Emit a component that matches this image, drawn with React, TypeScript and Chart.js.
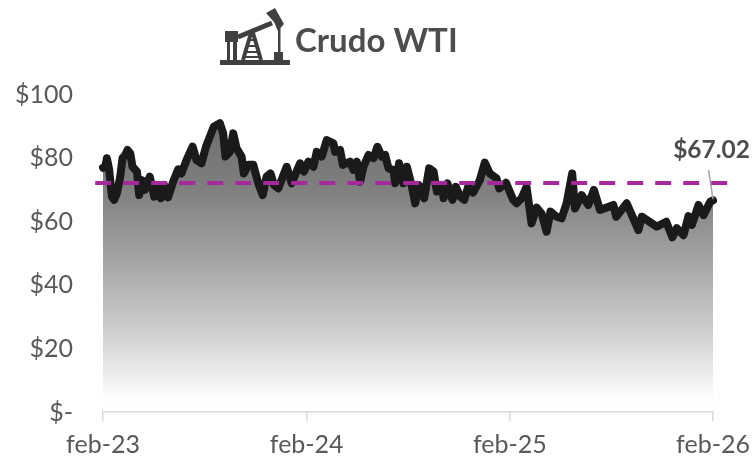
import React, { useEffect, useRef } from "react";
import { Chart, registerables } from "chart.js";

Chart.register(...registerables);

const FONT = "Lato, 'Open Sans', sans-serif";
const TITLE = "Crudo WTI";
const LAST_LABEL = "$67.02";
const AVERAGE = 71.7;

const tickDays = [0, 366, 731, 1096];
const tickLabels = ["feb-23", "feb-24", "feb-25", "feb-26"];
const yTicks = [0, 20, 40, 60, 80, 100];

const days = [
  0, 4, 7, 11, 16, 20, 25, 31, 35, 40, 44, 49, 53, 61, 65, 70, 75, 84, 92, 96, 104, 110, 117, 126, 135, 141, 150, 161,
  168, 177, 185, 192, 199, 210, 216, 220, 228, 234, 240, 249, 253, 261, 270, 279, 287, 294, 301, 307, 315, 330, 339,
  354, 361, 369, 378, 384, 393, 402, 414, 417, 426, 431, 444, 450, 456, 462, 468, 477, 486, 493, 501, 507, 513, 522,
  525, 532, 540, 546, 555, 561, 567, 577, 586, 594, 600, 609, 612, 619, 628, 634, 642, 649, 656, 665, 677, 686, 695,
  707, 712, 724, 737, 743, 752, 761, 770, 779, 788, 797, 804, 815, 824, 833, 843, 848, 860, 872, 882, 893, 917, 922,
  941, 962, 968, 995, 1012, 1023, 1031, 1043, 1052, 1058, 1070, 1079, 1091, 1096,
];
const prices = [
  76.5, 76.8, 79.5, 76.0, 67.4, 66.4, 68.5, 73.7, 79.5, 80.5, 82.1, 81.0, 76.8, 75.3, 67.9, 72.6, 69.5, 73.7, 67.4,
  71.1, 66.9, 71.1, 67.2, 72.1, 76.0, 74.7, 78.9, 83.1, 78.9, 77.9, 83.1, 86.3, 89.4, 90.5, 87.3, 80.0, 81.5, 87.3,
  82.6, 80.0, 74.7, 77.4, 77.4, 71.6, 67.9, 73.7, 74.7, 71.1, 70.0, 76.8, 71.6, 77.9, 75.3, 78.4, 76.8, 81.5, 80.0,
  85.2, 84.2, 81.5, 82.1, 77.4, 78.4, 75.8, 78.4, 72.1, 76.8, 80.5, 79.5, 83.1, 80.0, 80.5, 76.3, 75.8, 71.6, 77.9,
  71.6, 76.8, 70.5, 65.3, 71.1, 66.9, 76.3, 75.3, 69.0, 71.1, 66.9, 71.6, 66.4, 70.5, 67.4, 66.4, 70.5, 68.7, 72.6,
  78.1, 74.7, 73.2, 70.0, 71.8, 66.4, 65.3, 66.9, 70.5, 59.0, 64.0, 62.1, 56.4, 62.7, 61.1, 60.6, 65.3, 74.7, 63.7,
  67.9, 64.8, 69.5, 63.2, 64.8, 61.1, 65.3, 56.9, 61.1, 58.0, 59.5, 54.6, 57.5, 55.3, 61.3, 58.5, 64.8, 61.6, 65.8,
  66.2,
];
const averageDays = [-14, 1125];
const leaderDays = [1088, 1096];
const leaderValues = [75.8, 66.6];

function fillGradient(chart: any) {
  const { ctx, chartArea } = chart;
  if (!chartArea) return "#888";
  const g = ctx.createLinearGradient(0, chartArea.top, 0, chartArea.bottom);
  g.addColorStop(0, "#666666");
  g.addColorStop(0.3, "#7f7f7f");
  g.addColorStop(0.5, "#9f9f9f");
  g.addColorStop(0.75, "#cfcfcf");
  g.addColorStop(0.97, "#ffffff");
  g.addColorStop(1, "#ffffff");
  return g;
}

const annotations = {
  id: "annotations",
  afterDatasetsDraw(chart: any) {
    const { ctx, scales } = chart;
    ctx.save();
    // last value label
    ctx.font = `bold 24.5px ${FONT}`;
    ctx.fillStyle = "#4d4d4d";
    ctx.textAlign = "right";
    ctx.textBaseline = "middle";
    ctx.fillText(LAST_LABEL, scales.x.getPixelForValue(1096) + 37, 150);
    // title
    ctx.font = `bold 33px ${FONT}`;
    ctx.textAlign = "left";
    ctx.fillText(TITLE, 295, 41);
    // pumpjack icon
    ctx.fillStyle = "#404040";
    ctx.strokeStyle = "#404040";
    ctx.fillRect(220, 60, 70, 5);
    ctx.fillRect(225, 31, 13, 11);
    ctx.fillRect(227, 42, 3, 18);
    ctx.fillRect(233, 42, 4, 18);
    ctx.fillRect(278, 28, 2.5, 25);
    ctx.fillRect(274, 52, 9, 8);
    ctx.lineWidth = 5;
    ctx.beginPath();
    ctx.moveTo(238, 37);
    ctx.lineTo(272, 23);
    ctx.stroke();
    ctx.beginPath();
    ctx.moveTo(266, 13);
    ctx.lineTo(275, 8);
    ctx.lineTo(284, 24);
    ctx.lineTo(278, 31);
    ctx.lineTo(274, 22);
    ctx.closePath();
    ctx.fill();
    ctx.lineWidth = 4;
    ctx.beginPath();
    ctx.moveTo(251, 33);
    ctx.lineTo(243, 60);
    ctx.moveTo(253, 33);
    ctx.lineTo(261, 60);
    ctx.stroke();
    ctx.lineWidth = 2;
    ctx.beginPath();
    for (const [y, l, r] of [
      [40, 248, 256],
      [46, 246, 258],
      [52, 245, 259],
      [57, 244, 260],
    ]) {
      ctx.moveTo(l, y);
      ctx.lineTo(r, y);
    }
    ctx.stroke();
    ctx.restore();
  },
};

export default function App() {
  const ref = useRef<HTMLCanvasElement>(null);
  useEffect(() => {
    const chart = new Chart(ref.current!, {
      type: "line",
      data: {
        datasets: [
          {
            label: "Promedio",
            data: averageDays.map((x) => ({ x, y: AVERAGE })),
            borderColor: "#a5299a",
            borderWidth: 4,
            borderDash: [16, 12],
            pointRadius: 0,
            fill: false,
            clip: false,
            order: 1,
          },
          {
            label: "Etiqueta",
            data: leaderDays.map((x, i) => ({ x, y: leaderValues[i] })),
            borderColor: "#a6a6a6",
            borderWidth: 1.5,
            pointRadius: 0,
            fill: false,
            clip: false,
            order: 2,
          },
          {
            label: "Crudo WTI",
            data: days.map((x, i) => ({ x, y: prices[i] })),
            borderColor: "#1a1a1a",
            borderWidth: 8,
            borderJoinStyle: "round",
            borderCapStyle: "round",
            backgroundColor: (c: any) => fillGradient(c.chart),
            pointRadius: 0,
            tension: 0,
            fill: "origin",
            clip: false,
            order: 3,
          },
        ],
      },
      options: {
        responsive: false,
        animation: false,
        layout: { padding: { top: 93, right: 43, left: 0, bottom: 0 } },
        plugins: { legend: { display: false }, title: { display: false }, tooltip: { enabled: false } },
        scales: {
          x: {
            type: "linear",
            min: 0,
            max: 1096,
            afterBuildTicks: (s: any) => {
              s.ticks = tickDays.map((value) => ({ value }));
            },
            afterFit: (s: any) => {
              s.height = 47;
              s.paddingLeft = 0;
              s.paddingRight = 0;
            },
            border: { color: "#d9d9d9", width: 2.5 },
            grid: { drawOnChartArea: false, drawTicks: true, tickLength: 10, color: "#d9d9d9", lineWidth: 1.5 },
            ticks: {
              autoSkip: false,
              maxRotation: 0,
              padding: 9,
              color: "#595959",
              font: { family: FONT, size: 25 },
              callback: (v: any) => tickLabels[tickDays.indexOf(v)] ?? "",
            },
          },
          y: {
            min: 0,
            max: 100,
            afterBuildTicks: (s: any) => {
              s.ticks = yTicks.map((value) => ({ value }));
            },
            afterFit: (s: any) => {
              s.width = 103;
            },
            border: { display: false },
            grid: { display: false, drawTicks: false },
            ticks: {
              padding: 30,
              labelOffset: 1.5,
              color: "#595959",
              font: { family: FONT, size: 25 },
              callback: (v: any) => (v === 0 ? "$-" : "$" + v),
            },
          },
        },
      },
      plugins: [annotations],
    } as any);
    return () => chart.destroy();
  }, []);
  return (
    <canvas
      ref={ref}
      width={756}
      height={458}
      style={{ position: "fixed", left: 0, top: 0, display: "block", background: "#fff" }}
    />
  );
}
